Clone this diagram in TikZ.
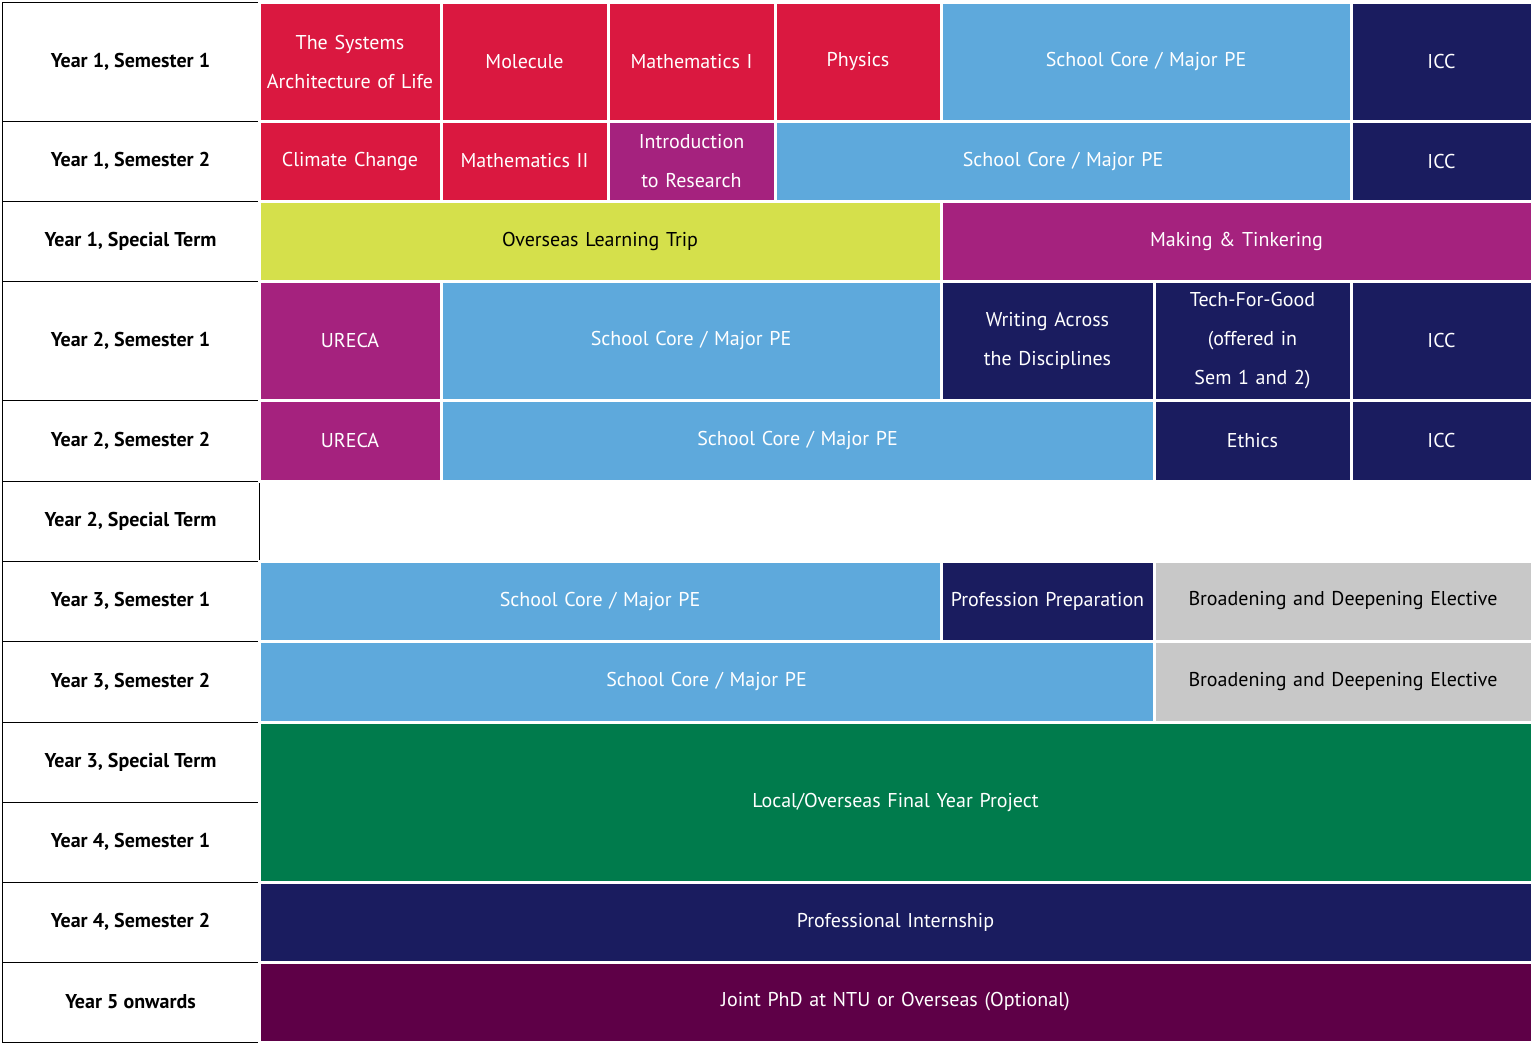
\documentclass[tikz,border=0pt]{standalone}
\usepackage{fontspec}
\setmainfont{PT Sans}
\definecolor{cred}{HTML}{DA1840}
\definecolor{cblue}{HTML}{5EA9DC}
\definecolor{cnavy}{HTML}{1A1C5F}
\definecolor{cmag}{HTML}{A5227E}
\definecolor{cyel}{HTML}{D5E04B}
\definecolor{cgrey}{HTML}{C8C8C8}
\definecolor{cgreen}{HTML}{007B4C}
\definecolor{cpurp}{HTML}{5E0047}
\newcommand{\Cell}[8]{% name, x1, x2, y1, y2, fill, textcolor, text
  \node[cell, fill=#6, text=#7, minimum width={(#3-#2)*1pt}, minimum height={(#5-#4)*1pt},
        text width={(#3-#2-12)*1pt}] (#1) at ({(#2+#3)/2*1pt},{-(#4+#5)/2*1pt}) {#8};}
\newcommand{\Lab}[4]{% name, y1, y2, text
  \node[lab, minimum width=257pt, minimum height={(#3-#2)*1pt}] (#1) at (130.5pt,{-(#2+#3)/2*1pt}) {#4};}
\begin{document}
\begin{tikzpicture}[x=1pt,y=1pt,
  cell/.style={draw=white, line width=3pt, inner sep=0pt, align=center,
    font=\fontsize{20}{39}\selectfont},
  lab/.style={draw=black, line width=0.8pt, inner sep=0pt, align=center,
    font=\fontsize{20}{24}\selectfont\bfseries}]
\fill[white] (0,0) rectangle (1534,-1044);
\useasboundingbox (0,0) rectangle (1534,-1044);
\Lab{l1}{2}{121}{Year 1, Semester 1}
\Lab{l2}{121}{201}{Year 1, Semester 2}
\Lab{l3}{201}{281}{Year 1, Special Term}
\Lab{l4}{281}{400}{Year 2, Semester 1}
\Lab{l5}{400}{481}{Year 2, Semester 2}
\Lab{l6}{481}{561}{Year 2, Special Term}
\Lab{l7}{561}{641}{Year 3, Semester 1}
\Lab{l8}{641}{722}{Year 3, Semester 2}
\Lab{l9}{722}{802}{Year 3, Special Term}
\Lab{l10}{802}{882}{Year 4, Semester 1}
\Lab{l11}{882}{962}{Year 4, Semester 2}
\Lab{l12}{962}{1042}{Year 5 onwards}
% row 1
\Cell{a1}{259}{441}{2}{121}{cred}{white}{The Systems Architecture of Life}
\Cell{a2}{441}{608}{2}{121}{cred}{white}{Molecule}
\Cell{a3}{608}{775}{2}{121}{cred}{white}{Mathematics I}
\Cell{a4}{775}{941}{2}{121}{cred}{white}{Physics}
\Cell{a5}{941}{1351}{2}{121}{cblue}{white}{School Core / Major PE}
\Cell{a6}{1351}{1532}{2}{121}{cnavy}{white}{ICC}
% row 2
\Cell{b1}{259}{441}{121}{201}{cred}{white}{Climate Change}
\Cell{b2}{441}{608}{121}{201}{cred}{white}{Mathematics II}
\Cell{b3}{608}{775}{121}{201}{cmag}{white}{Introduction to Research}
\Cell{b4}{775}{1351}{121}{201}{cblue}{white}{School Core / Major PE}
\Cell{b5}{1351}{1532}{121}{201}{cnavy}{white}{ICC}
% row 3
\Cell{c1}{259}{941}{201}{281}{cyel}{black}{Overseas Learning Trip}
\Cell{c2}{941}{1532}{201}{281}{cmag}{white}{Making \& Tinkering}
% row 4
\Cell{d1}{259}{441}{281}{400}{cmag}{white}{URECA}
\Cell{d2}{441}{941}{281}{400}{cblue}{white}{School Core / Major PE}
\Cell{d3}{941}{1154}{281}{400}{cnavy}{white}{Writing Across the Disciplines}
\Cell{d4}{1154}{1351}{281}{400}{cnavy}{white}{Tech-For-Good (offered in Sem 1 and 2)}
\Cell{d5}{1351}{1532}{281}{400}{cnavy}{white}{ICC}
% row 5
\Cell{e1}{259}{441}{400}{481}{cmag}{white}{URECA}
\Cell{e2}{441}{1154}{400}{481}{cblue}{white}{School Core / Major PE}
\Cell{e3}{1154}{1351}{400}{481}{cnavy}{white}{Ethics}
\Cell{e4}{1351}{1532}{400}{481}{cnavy}{white}{ICC}
% row 7
\Cell{g1}{259}{941}{561}{641}{cblue}{white}{School Core / Major PE}
\Cell{g2}{941}{1154}{561}{641}{cnavy}{white}{Profession Preparation}
\Cell{g3}{1154}{1532}{561}{641}{cgrey}{black}{Broadening and Deepening Elective}
% row 8
\Cell{h1}{259}{1154}{641}{722}{cblue}{white}{School Core / Major PE}
\Cell{h2}{1154}{1532}{641}{722}{cgrey}{black}{Broadening and Deepening Elective}
% rows 9-12
\Cell{i1}{259}{1532}{722}{882}{cgreen}{white}{Local/Overseas Final Year Project}
\Cell{j1}{259}{1532}{882}{962}{cnavy}{white}{Professional Internship}
\Cell{k1}{259}{1532}{962}{1042}{cpurp}{white}{Joint PhD at NTU or Overseas (Optional)}
\end{tikzpicture}
\end{document}
